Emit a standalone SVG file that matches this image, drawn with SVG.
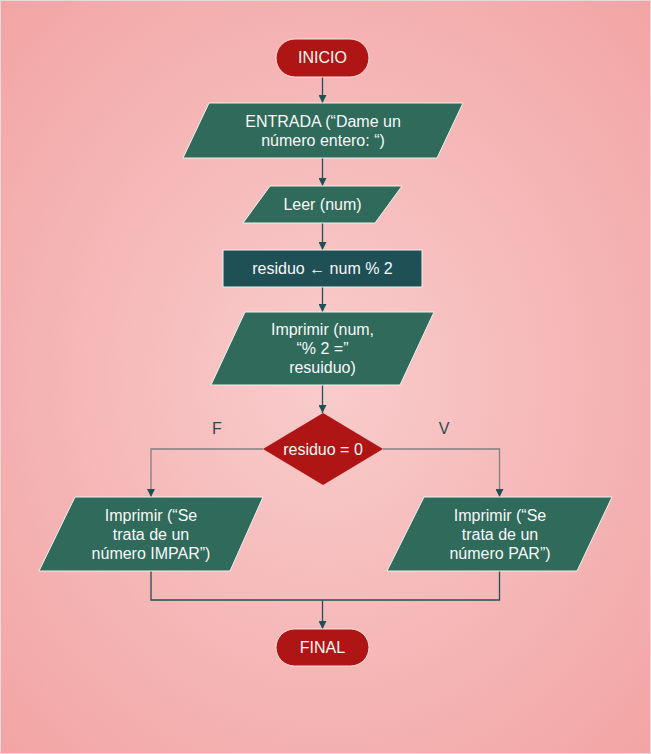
<svg xmlns="http://www.w3.org/2000/svg" width="651" height="754" viewBox="0 0 651 754">
<style>
.term{fill:#b01515;stroke:#f6e2e2;stroke-width:1}
.io{fill:#2f6a5b;stroke:#eef2ee;stroke-width:1}
.proc{fill:#1f5056;stroke:#eef2ee;stroke-width:1}
.dec{fill:#b01515;stroke:none}
.t{font-family:"Liberation Sans",Arial,sans-serif;font-size:16px;fill:#f8f8f8;text-anchor:middle;dominant-baseline:central}
.lbl{font-family:"Liberation Sans",Arial,sans-serif;font-size:16px;fill:#2a4a50;text-anchor:middle;dominant-baseline:central}
.c{fill:none;stroke:#1f5056;stroke-width:1.3}
.g{fill:none;stroke:#808080;stroke-width:1.3}
</style>
<defs>
<radialGradient id="bg" cx="0.5" cy="0.5" r="0.75">
<stop offset="0" stop-color="#f9cccc"/>
<stop offset="1" stop-color="#f2a2a2"/>
</radialGradient>
<marker id="ah" viewBox="0 0 10 10" refX="10" refY="5" markerWidth="8" markerHeight="8" orient="auto" markerUnits="userSpaceOnUse">
<path d="M0,0 L10,5 L0,10 z" fill="#1f5056"/>
</marker>
</defs>
<rect x="0.5" y="0.5" width="650" height="753" fill="url(#bg)" stroke="#e8d8d8" stroke-width="1"/>
<g id="connectors">
<path class="c" d="M322.5,77 V103" marker-end="url(#ah)"/>
<path class="c" d="M322.5,158 V186" marker-end="url(#ah)"/>
<path class="c" d="M322.5,223 V250" marker-end="url(#ah)"/>
<path class="c" d="M322.5,287 V312" marker-end="url(#ah)"/>
<path class="c" d="M322.5,385 V413" marker-end="url(#ah)"/>
<path class="g" d="M263,449 H151 V497" marker-end="url(#ah)"/>
<path class="g" d="M383,449 H499.5 V497" marker-end="url(#ah)"/>
<path class="c" d="M151,571 V600 H499.5 V571"/>
<path class="c" d="M322.5,600 V629" marker-end="url(#ah)"/>
<text class="lbl" x="217" y="428">F</text>
<text class="lbl" x="444" y="428">V</text>
</g>
<g id="inicio">
<rect class="term" x="276" y="39" width="93" height="38" rx="19"/>
<text class="t" x="322.5" y="57.5">INICIO</text>
</g>
<g id="entrada">
<polygon class="io" points="209,103 463,103 437,158 183,158"/>
<text class="t" x="323" y="121">ENTRADA (“Dame un</text>
<text class="t" x="323" y="140">número entero: “)</text>
</g>
<g id="leer">
<polygon class="io" points="270,186 402,186 375,223 243,223"/>
<text class="t" x="322.5" y="204">Leer (num)</text>
</g>
<g id="residuo">
<rect class="proc" x="223" y="250" width="199" height="37"/>
<text class="t" x="322.5" y="268.5">residuo ← num % 2</text>
</g>
<g id="imprimir1">
<polygon class="io" points="245,312 434,312 400,385 211,385"/>
<text class="t" x="322.5" y="329">Imprimir (num,</text>
<text class="t" x="322.5" y="348">“% 2 =”</text>
<text class="t" x="322.5" y="367">resuiduo)</text>
</g>
<g id="decision">
<polygon class="dec" points="323,413 383,449 323,485 263,449"/>
<text class="t" x="323" y="449">residuo = 0</text>
</g>
<g id="impar">
<polygon class="io" points="75,497 263,497 230,571 39,571"/>
<text class="t" x="151" y="515">Imprimir (“Se</text>
<text class="t" x="151" y="534">trata de un</text>
<text class="t" x="151" y="553">número IMPAR”)</text>
</g>
<g id="par">
<polygon class="io" points="424,497 612,497 577,571 387,571"/>
<text class="t" x="500" y="515">Imprimir (“Se</text>
<text class="t" x="500" y="534">trata de un</text>
<text class="t" x="500" y="553">número PAR”)</text>
</g>
<g id="final">
<rect class="term" x="276" y="629" width="93" height="37" rx="18.5"/>
<text class="t" x="322.5" y="647">FINAL</text>
</g>
</svg>
